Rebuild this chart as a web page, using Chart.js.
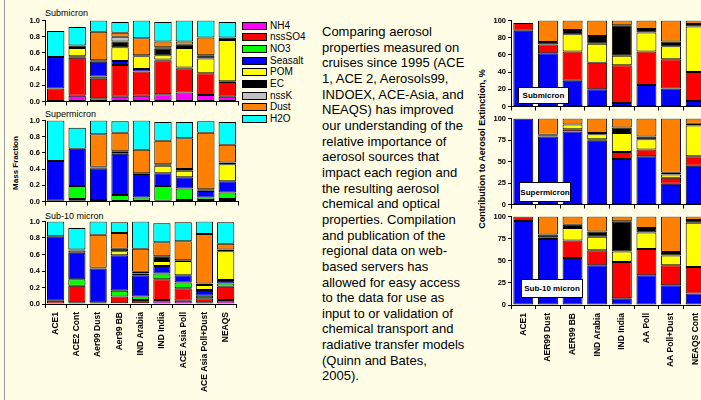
<!DOCTYPE html>
<html>
<head>
<meta charset="utf-8">
<script src="https://cdn.jsdelivr.net/npm/chart.js@4/dist/chart.umd.min.js"></script>
<style>
  html, body { margin: 0; padding: 0; }
  body {
    width: 701px; height: 400px; overflow: hidden; position: relative;
    background: #FFFDE6; color: #000;
    font-family: Arial, "Liberation Sans", sans-serif;
  }
  canvas { position: absolute; }
  .lbl { position: absolute; white-space: nowrap; }
  .title { font-size: 9px; line-height: 10px; }
  .swatch { position: absolute; width: 25px; height: 8px; border: 1px solid #000; box-sizing: border-box; }
  .legtext { position: absolute; font-size: 10px; line-height: 12px; white-space: nowrap; }
  .vtitle { position: absolute; font-weight: bold; white-space: nowrap; transform: translate(-50%, -50%) rotate(-90deg); }
  .box {
    position: absolute; background: #fff; border: 1px solid #000; box-sizing: border-box;
    font-size: 8px; font-weight: bold; display: flex; align-items: center; justify-content: center;
  }
  #para { position: absolute; left: 322px; top: 24px; font-size: 13px; line-height: 15.65px; white-space: nowrap; }
  #frame { position: absolute; left: 4px; top: 0; width: 1px; height: 400px; background: #9a9a9a; }
</style>
</head>
<body>
<div id="frame"></div>

<!-- left chart: mass fraction -->
<div class="lbl title" style="left:45px; top:8px;">Submicron</div>
<div class="lbl title" style="left:45px; top:109px;">Supermicron</div>
<div class="lbl title" style="left:45px; top:211px;">Sub-10 micron</div>
<div class="vtitle" style="left:15px; top:163px; font-size:8px;">Mass Fraction</div>
<canvas id="subL" width="230" height="94" style="left:10px; top:14px;"></canvas>
<canvas id="supL" width="230" height="94" style="left:10px; top:114px;"></canvas>
<canvas id="s10L" width="230" height="184" style="left:10px; top:215px;"></canvas>
<div id="legend"></div>

<div id="para">Comparing aerosol<br>properties measured on<br>cruises since 1995 (ACE<br>1, ACE 2, Aerosols99,<br>INDOEX, ACE-Asia, and<br>NEAQS) has improved<br>our understanding of the<br>relative importance of<br>aerosol sources that<br>impact each region and<br>the resulting aerosol<br>chemical and optical<br>properties. Compilation<br>and publication of the<br>regional data on web-<br>based servers has<br>allowed for easy access<br>to the data for use as<br>input to or validation of<br>chemical transport and<br>radiative transfer models<br>(Quinn and Bates,<br>2005).</div>

<!-- right chart: extinction contribution -->
<div class="vtitle" style="left:482px; top:149px; font-size:9px;">Contribution to Aerosol Extinction, %</div>
<canvas id="subR" width="240" height="99" style="left:470px; top:14px;"></canvas>
<canvas id="supR" width="240" height="99" style="left:470px; top:112px;"></canvas>
<canvas id="s10R" width="240" height="190" style="left:470px; top:210px;"></canvas>
<div class="box" style="left:518px; top:87px; width:51px; height:17px;">Submicron</div>
<div class="box" style="left:519px; top:182px; width:52px; height:20px;">Supermicron</div>
<div class="box" style="left:521px; top:279px; width:62px; height:19px;">Sub-10 micron</div>

<script>
// ---- Mass fraction (left) ----
const massSites = ['ACE1', 'ACE2 Cont', 'Aer99 Dust', 'Aer99 BB', 'IND Arabia', 'IND India', 'ACE Asia Poll', 'ACE Asia Poll+Dust', 'NEAQS'];
const massComponents = ['NH4', 'nssSO4', 'NO3', 'Seasalt', 'POM', 'EC', 'nssK', 'Dust', 'H2O'];
const massColors = ['#FF00FF', '#FF0000', '#00FF00', '#0000FF', '#FFFF00', '#000000', '#C0C0C0', '#FF8000', '#00FFFF'];
const massTicks = [0, 0.2, 0.4, 0.6, 0.8, 1.0];

// one row per component, one column per site
const subMass = [
    [0, 0.07, 0.04, 0.06, 0.07, 0.09, 0.11, 0.08, 0.06],   // NH4
    [0.16, 0.47, 0.24, 0.39, 0.30, 0.42, 0.30, 0.27, 0.18], // nssSO4
    [0, 0, 0.03, 0, 0, 0, 0, 0, 0],                         // NO3
    [0.39, 0.02, 0.18, 0.05, 0.03, 0.01, 0.01, 0, 0.01],    // Seasalt
    [0, 0.10, 0, 0.17, 0.16, 0.05, 0.24, 0.18, 0.51],       // POM
    [0, 0.03, 0.02, 0.07, 0.01, 0.08, 0.04, 0.04, 0.03],    // EC
    [0, 0, 0, 0.06, 0, 0.02, 0, 0, 0],                      // nssK
    [0, 0, 0.35, 0.05, 0.21, 0.07, 0.04, 0.22, 0],          // Dust
    [0.32, 0.23, 0.14, 0.13, 0.22, 0.24, 0.26, 0.21, 0.19]  // H2O
];
const supMass = [
    [0, 0.01, 0, 0, 0, 0, 0, 0, 0],
    [0.01, 0.02, 0, 0, 0, 0.01, 0.02, 0.02, 0.03],
    [0, 0.16, 0.02, 0.08, 0.05, 0.18, 0.14, 0.03, 0.08],
    [0.49, 0.46, 0.39, 0.51, 0.29, 0.16, 0.14, 0.08, 0.14],
    [0, 0, 0.01, 0.02, 0, 0.09, 0.08, 0.01, 0.21],
    [0, 0, 0.01, 0.01, 0.01, 0.02, 0.02, 0.01, 0.02],
    [0, 0, 0, 0, 0, 0, 0, 0, 0],
    [0, 0, 0.40, 0.23, 0.29, 0.29, 0.38, 0.70, 0.22],
    [0.50, 0.26, 0.17, 0.14, 0.36, 0.23, 0.20, 0.14, 0.28]
];
const s10Mass = [
    [0, 0.02, 0, 0.01, 0.01, 0.05, 0.04, 0.02, 0.05],
    [0.04, 0.20, 0, 0.08, 0.04, 0.25, 0.15, 0.05, 0.16],
    [0, 0.08, 0.02, 0.07, 0.04, 0.07, 0.07, 0.03, 0.04],
    [0.78, 0.32, 0.41, 0.43, 0.26, 0.09, 0.09, 0.07, 0.04],
    [0, 0.03, 0, 0.05, 0.02, 0.06, 0.17, 0.06, 0.35],
    [0, 0.01, 0.01, 0.03, 0.02, 0.06, 0.01, 0.02, 0.02],
    [0, 0, 0, 0, 0, 0, 0, 0, 0],
    [0, 0, 0.40, 0.19, 0.28, 0.17, 0.23, 0.60, 0.07],
    [0.18, 0.26, 0.16, 0.13, 0.33, 0.23, 0.23, 0.15, 0.26]
];

// ---- Extinction contribution (right) ----
const extSites = ['ACE1', 'AER99 Dust', 'AER99 BB', 'IND Arabia', 'IND India', 'AA Poll', 'AA Poll+Dust', 'NEAQS Cont'];
const extComponents = ['Seasalt', 'nssSO4', 'POM', 'EC', 'Dust'];
const extColors = ['#0000FF', '#FF0000', '#FFFF00', '#000000', '#FF8000'];
const extTicksSub = [0, 20, 40, 60, 80, 100];
const extTicksCoarse = [0, 25, 50, 75, 100];

const subExt = [
    [88, 62, 30, 20, 4, 25, 21, 6.5],   // Seasalt
    [9, 10, 34, 31, 44, 39, 34, 33.5],  // nssSO4
    [0, 0, 20, 22, 11, 22, 15, 53],     // POM
    [0, 3, 5, 9, 35.5, 4, 5.5, 3],      // EC
    [0, 25, 11, 18, 5.5, 10, 24.5, 4]   // Dust
];
const supExt = [
    [100, 79, 85, 74, 53, 56, 24, 45],
    [0, 1, 2.5, 2, 8, 8, 7, 11],
    [0, 0, 5.5, 5.7, 22, 12, 4, 36],
    [0, 1, 0, 1.3, 6.5, 3, 2, 2],
    [0, 19, 7, 17, 10.5, 21, 63, 6]
];
const s10Ext = [
    [95, 74.6, 53, 45, 7.5, 33.6, 22.4, 13],
    [5, 2, 20, 17, 41, 29.8, 22.6, 30],
    [0, 0, 14, 15, 12, 18.6, 11, 50],
    [0, 3, 3.7, 6, 34, 5, 4, 3],
    [0, 20.4, 9.3, 17, 5.5, 13, 40, 4]
];

const tickFont = { family: 'Arial', size: 7.5, weight: 'bold' };
const labelFont = { family: 'Arial', size: 8.5, weight: 'bold' };

/**
 * Builds the stacked datasets for one panel.
 */
function buildDatasets(names, colors, rows) {
    return names.map((name, i) => ({
        label: name,
        data: rows[i].map(v => (v === 0 ? null : v)),
        backgroundColor: colors[i],
        borderColor: '#000',
        borderWidth: 1,
        borderSkipped: false,
        barPercentage: 0.81,
        categoryPercentage: 1
    }));
}

/**
 * Draws one stacked bar panel. Axis sizes are fixed so the panels line up.
 */
function drawPanel(id, labels, datasets, ticks, fmt, yWidth, xHeight, showLabels) {
    const ctx = document.getElementById(id).getContext('2d');
    return new Chart(ctx, {
        type: 'bar',
        data: { labels, datasets },
        options: {
            responsive: false,
            animation: false,
            devicePixelRatio: 1,
            layout: { padding: { top: 6, right: 2, left: 0, bottom: 0 } },
            plugins: { legend: { display: false }, tooltip: { enabled: false } },
            scales: {
                x: {
                    stacked: true,
                    grid: { offset: true, drawOnChartArea: false, tickLength: 4, color: '#000' },
                    border: { color: '#000', width: 1 },
                    ticks: {
                        display: showLabels, autoSkip: false, minRotation: 90, maxRotation: 90,
                        font: labelFont, color: '#000', padding: 4
                    },
                    afterFit: s => { s.height = xHeight; }
                },
                y: {
                    stacked: true,
                    min: ticks[0],
                    max: ticks[ticks.length - 1],
                    afterBuildTicks: s => { s.ticks = ticks.map(v => ({ value: v })); },
                    grid: { drawOnChartArea: false, tickLength: 3, color: '#000' },
                    border: { color: '#000', width: 1 },
                    ticks: { font: tickFont, color: '#000', padding: 2, callback: fmt },
                    afterFit: s => { s.width = yWidth; }
                }
            }
        }
    });
}

const massFmt = v => Number(v).toFixed(1);
const extFmt = v => String(v);

drawPanel('subL', massSites, buildDatasets(massComponents, massColors, subMass), massTicks, massFmt, 35, 5, false);
drawPanel('supL', massSites, buildDatasets(massComponents, massColors, supMass), massTicks, massFmt, 35, 5, false);
drawPanel('s10L', massSites, buildDatasets(massComponents, massColors, s10Mass), massTicks, massFmt, 35, 95, true);

drawPanel('subR', extSites, buildDatasets(extComponents, extColors, subExt), extTicksSub, extFmt, 41, 5, false);
drawPanel('supR', extSites, buildDatasets(extComponents, extColors, supExt), extTicksCoarse, extFmt, 41, 5, false);
drawPanel('s10R', extSites, buildDatasets(extComponents, extColors, s10Ext), extTicksCoarse, extFmt, 41, 95, true);

// legend for the mass fraction panels
const legend = document.getElementById('legend');
massComponents.forEach((name, i) => {
    const cy = 25.5 + i * 11.7;
    const sw = document.createElement('div');
    sw.className = 'swatch';
    sw.style.left = '242px';
    sw.style.top = (cy - 4) + 'px';
    sw.style.background = massColors[i];
    legend.appendChild(sw);
    const tx = document.createElement('div');
    tx.className = 'legtext';
    tx.style.left = '270px';
    tx.style.top = (cy - 6) + 'px';
    tx.textContent = name;
    legend.appendChild(tx);
});
</script>
</body>
</html>
